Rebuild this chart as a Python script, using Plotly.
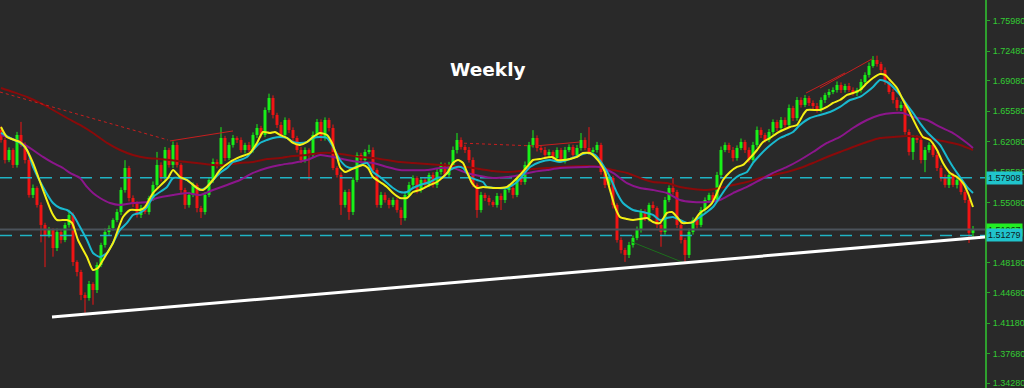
import plotly.graph_objects as go

# ---------------- data ----------------
first_open = 1.6341
close = [
    1.6226,1.5996,1.6111,1.5939,1.6284,1.6169,1.5996,1.5594,1.5674,1.5479,
    1.5249,1.5134,1.5191,1.4984,1.5168,1.5076,1.5249,1.5364,1.4823,1.4708,
    1.4444,1.4409,1.4570,1.4501,1.4789,1.5019,1.5168,1.5214,1.5306,1.5398,
    1.5651,1.5904,1.5559,1.5501,1.5364,1.5444,1.5398,1.5559,1.5709,1.5939,
    1.5789,1.6111,1.5939,1.6169,1.5939,1.5651,1.5479,1.5594,1.5709,1.5444,
    1.5398,1.5594,1.5766,1.5973,1.5939,1.6249,1.6019,1.6169,1.6249,1.6226,
    1.6111,1.6169,1.6111,1.6284,1.6364,1.6284,1.6571,1.6709,1.6514,1.6399,
    1.6284,1.6456,1.6341,1.6249,1.6111,1.5996,1.6111,1.6054,1.6284,1.6433,
    1.6249,1.6456,1.6364,1.5904,1.5824,1.5479,1.5628,1.5398,1.5766,1.6054,
    1.5996,1.6088,1.6111,1.5881,1.5479,1.5594,1.5536,1.5479,1.5536,1.5421,
    1.5329,1.5594,1.5709,1.5789,1.5651,1.5766,1.5709,1.5824,1.5709,1.5858,
    1.5939,1.5824,1.5939,1.6111,1.6226,1.6146,1.6111,1.5996,1.5709,1.5421,
    1.5594,1.5559,1.5513,1.5479,1.5582,1.5536,1.5651,1.5674,1.5594,1.5789,
    1.5743,1.5939,1.6169,1.6249,1.6134,1.6111,1.6054,1.6088,1.6019,1.6111,
    1.5996,1.6111,1.6146,1.6054,1.6134,1.6226,1.6134,1.6088,1.6111,1.6169,
    1.5858,1.5709,1.5789,1.5479,1.5076,1.4961,1.4904,1.5019,1.5099,1.5191,
    1.5398,1.5329,1.5479,1.5444,1.5249,1.5168,1.5536,1.5674,1.5628,1.5249,
    1.5076,1.4904,1.5168,1.5306,1.5249,1.5421,1.5536,1.5594,1.5536,1.5824,
    1.6111,1.6169,1.6111,1.6019,1.6134,1.6203,1.6111,1.5996,1.6169,1.6341,
    1.6284,1.6226,1.6318,1.6433,1.6364,1.6456,1.6399,1.6594,1.6479,1.6686,
    1.6629,1.6709,1.6652,1.6617,1.6571,1.6686,1.6744,1.6778,1.6801,1.6859,
    1.6801,1.6847,1.6801,1.6766,1.6801,1.6893,1.6974,1.7077,1.7146,1.7100,
    1.7031,1.6893,1.6778,1.6686,1.6594,1.6629,1.6318,1.6088,1.6249,1.6226,
    1.5996,1.6111,1.6169,1.6054,1.5904,1.5789,1.5709,1.5824,1.5709,1.5766,
    1.5628,1.5536,1.5157,1.5197,
]
# upper / lower shadow lengths in pips
wick_up = [
    40,25,30,20,35,150,30,25,40,20, 30,25,35,20,40,30,25,60,30,20,
    25,30,35,20,30,25,40,30,20,35, 30,90,25,30,20,35,30,25,40,150,
    30,35,25,40,30,20,25,35,30,20, 25,30,35,40,30,125,25,30,35,20,
    30,25,35,30,45,25,30,50,30,25, 35,30,20,30,25,35,30,20,40,35,
    30,30,25,40,20,30,25,35,30,30, 25,30,60,30,20,35,30,25,30,20,
    30,25,35,30,20,35,30,25,30,35, 30,25,35,40,80,30,25,35,30,20,
    35,25,30,20,35,30,25,30,20,35, 30,40,35,90,30,25,35,30,20,30,
    25,35,30,25,35,80,30,240,30,35, 25,30,35,25,20,30,25,35,30,40,
    35,30,25,40,20,30,35,30,115,25, 30,25,40,30,25,35,30,25,30,35,
    40,30,25,35,30,40,25,30,35,40, 30,25,35,30,25,35,30,40,25,35,
    30,35,25,30,35,30,25,35,30,40, 30,25,35,30,25,35,30,40,45,50,
    25,30,20,35,30,40,25,30,35,30, 40,35,30,25,35,30,40,30,25,35,
    30,25,30,40,
]
wick_dn = [
    30,40,25,35,30,25,40,30,35,30, 200,370,30,100,35,40,25,30,45,50,
    60,170,30,170,35,25,30,40,30,25, 35,30,40,45,30,35,25,30,35,30,
    40,25,30,35,30,40,45,30,25,50, 70,30,25,35,40,30,35,25,30,35,
    30,40,25,30,35,30,25,30,40,35, 30,25,35,40,30,35,30,290,30,25,
    35,30,40,25,30,115,30,90,35,25, 30,40,25,35,30,35,30,40,25,30,
    80,30,25,35,40,30,35,25,30,35, 30,35,25,30,40,30,35,30,25,90,
    30,35,40,25,30,115,35,30,40,25, 35,30,25,30,40,30,35,25,30,35,
    30,40,25,30,35,30,25,30,35,30, 30,35,25,40,30,40,80,35,30,25,
    30,35,40,25,35,170,30,25,30,35, 40,80,35,30,40,25,30,35,30,25,
    30,25,35,40,30,25,35,30,25,30, 35,30,25,30,35,40,30,25,35,30,
    30,25,35,40,30,25,35,30,25,30, 35,30,25,30,35,30,25,30,20,30,
    35,30,25,40,30,35,30,40,90,35, 40,140,30,25,35,40,30,35,25,40,
    30,35,115,45,
]

# moving averages: (bar position, value)
ma_fast_x = [0,1.5,4.75,6,8,10.5,12.75,14,16.5,17.75,19.25,21.5,23,24.25,25.5,28,30.5,32.25,34.75,36,38,40.5,41.75,43,44.75,46.5,49,50.5,53,54.75,57.25,59.75,62.25,64,65.5,67.25,68.5,69.75,71.5,73,74.75,76.5,78,79.75,81.5,82.75,84,84.75,86,87.25,89,90.5,91.75,93,94.75,96.5,98,99.75,101.5,103,104.75,107.25,109,110.5,111.75,113,114.25,115.5,116.5,117.75,119,120.5,123,124.75,126.5,128,129.75,131.5,133,134.75,137.75,139,140.5,142.25,144,145.5,147.25,148.5,149.75,151,152.25,153.5,154.75,156.5,158,159.75,161.5,163,164.75,166.5,167.75,169,170.25,171.5,173,174.75,176.5,177.75,179,180.5,182.25,184,185.5,187.25,189,190.5,192.25,194,195.5,197.25,199,200.5,201.5,204.75,206.5,208,209.75,211.5,213,214.75,216.5,218,219.75,221,222.25,224,225.5,227.25,229,230.5,232.25,234,235.5,237.25,239,240.5,241.75,243]
ma_fast_y = [1.6376,1.6261,1.6203,1.6146,1.5962,1.5651,1.5387,1.5306,1.5306,1.5272,1.5076,1.4880,1.4731,1.4754,1.4846,1.5042,1.5341,1.5421,1.5421,1.5455,1.5616,1.5731,1.5789,1.5881,1.5800,1.5766,1.5674,1.5651,1.5766,1.5881,1.5973,1.6031,1.6077,1.6192,1.6318,1.6306,1.6318,1.6284,1.6249,1.6192,1.6169,1.6203,1.6261,1.6306,1.6284,1.6192,1.6031,1.5916,1.5858,1.5881,1.5916,1.5939,1.5904,1.5800,1.5743,1.5686,1.5616,1.5559,1.5559,1.5628,1.5651,1.5709,1.5743,1.5800,1.5858,1.5962,1.5996,1.5962,1.5858,1.5731,1.5674,1.5686,1.5674,1.5674,1.5686,1.5743,1.5824,1.5916,1.5996,1.6008,1.6031,1.5996,1.5996,1.6008,1.6031,1.6077,1.6077,1.6031,1.5962,1.5858,1.5651,1.5455,1.5341,1.5318,1.5306,1.5318,1.5329,1.5283,1.5272,1.5387,1.5398,1.5341,1.5272,1.5272,1.5283,1.5387,1.5444,1.5501,1.5616,1.5766,1.5858,1.5916,1.5939,1.6019,1.6111,1.6203,1.6249,1.6306,1.6341,1.6376,1.6399,1.6514,1.6571,1.6571,1.6606,1.6652,1.6686,1.6744,1.6766,1.6801,1.6881,1.6939,1.6985,1.6974,1.6916,1.6824,1.6686,1.6537,1.6376,1.6261,1.6226,1.6111,1.5962,1.5847,1.5800,1.5731,1.5616,1.5455]

ma_mid_x = [0,2.25,4.75,6.5,8,10.5,13,14.75,16.5,18,19.75,21.5,23,24.75,26.5,28,29.75,31.5,33,34.75,36.5,38,41.5,43,44.75,46.5,48,49.75,51.5,53,54.75,56.5,58,59.75,61.5,63,64.75,66.5,68,69.75,71.5,73,74.75,76.5,78,79.75,81.5,83,84.75,86.5,88,89.75,91.5,93,94.75,96.5,98,99.75,101.5,103,104.75,107.25,109,110.5,112.25,114,115.5,117.25,119,120.5,121.5,124,126.5,129,130.5,132.25,134.75,137.25,139.75,142.25,144.75,146.5,148.5,150.5,152.25,154,155.5,158,160.5,163,164.75,166.5,168,169.75,171.5,173,174.75,176.5,178,179.75,181.5,183,184.75,186.5,188,189.75,191.5,193,194.75,196.5,198,199.75,202.25,204.75,207.25,209.75,212.25,214.75,216.5,218,219.75,221.5,223,224.75,226.5,228,229.75,231.5,233,234.75,236.5,238,239.75,241.5,243]
ma_mid_y = [1.6307,1.6249,1.6192,1.6111,1.5916,1.5686,1.5501,1.5444,1.5421,1.5364,1.5226,1.5076,1.4927,1.4880,1.4927,1.5042,1.5191,1.5272,1.5364,1.5387,1.5455,1.5571,1.5686,1.5789,1.5789,1.5766,1.5709,1.5651,1.5686,1.5766,1.5847,1.5904,1.5973,1.5996,1.6031,1.6111,1.6192,1.6226,1.6249,1.6261,1.6249,1.6203,1.6192,1.6203,1.6249,1.6261,1.6249,1.6146,1.5996,1.5916,1.5904,1.5939,1.5962,1.5858,1.5800,1.5731,1.5674,1.5628,1.5628,1.5674,1.5709,1.5743,1.5789,1.5800,1.5881,1.5916,1.5904,1.5800,1.5766,1.5743,1.5686,1.5674,1.5674,1.5743,1.5824,1.5916,1.5973,1.5996,1.5973,1.6008,1.6054,1.6077,1.6054,1.5939,1.5800,1.5616,1.5501,1.5421,1.5398,1.5364,1.5306,1.5329,1.5341,1.5306,1.5272,1.5283,1.5341,1.5398,1.5455,1.5571,1.5686,1.5766,1.5824,1.5858,1.5962,1.6054,1.6134,1.6192,1.6249,1.6284,1.6318,1.6399,1.6479,1.6514,1.6548,1.6606,1.6686,1.6721,1.6778,1.6836,1.6916,1.6893,1.6836,1.6744,1.6629,1.6537,1.6421,1.6318,1.6249,1.6169,1.6031,1.5916,1.5800,1.5686,1.5616]

ma_slow_x = [0,2.25,4.75,8,10.5,13,15.5,17.25,19.75,21.5,23,24.75,27.25,29.75,33,36.5,39,43,46.5,49.75,53,56.5,59.75,63,66.5,69.75,73,76.5,79.75,83,86.5,89.75,93,96.5,99.75,106.5,109.75,113,116.5,119.75,123,126.5,129.75,133,136.5,139.75,146.5,149.75,153,156.5,159.75,163,166.5,169.75,173,176.5,179.75,183,186.5,189.75,193,196.5,199.75,203,206.5,209.75,213,216.5,219.75,223,225.5,228,231.5,234.75,238,241.5,243]
ma_slow_y = [1.6284,1.6249,1.6203,1.6111,1.6031,1.5962,1.5904,1.5847,1.5789,1.5686,1.5616,1.5559,1.5501,1.5479,1.5501,1.5513,1.5559,1.5594,1.5616,1.5594,1.5651,1.5709,1.5766,1.5847,1.5904,1.5939,1.5962,1.5996,1.6054,1.6031,1.5996,1.5973,1.5962,1.5916,1.5881,1.5881,1.5904,1.5904,1.5847,1.5812,1.5789,1.5800,1.5824,1.5858,1.5881,1.5904,1.5916,1.5916,1.5847,1.5731,1.5674,1.5651,1.5616,1.5536,1.5513,1.5513,1.5536,1.5616,1.5686,1.5766,1.5847,1.5916,1.5996,1.6088,1.6192,1.6261,1.6364,1.6456,1.6514,1.6537,1.6537,1.6491,1.6456,1.6376,1.6306,1.6192,1.6134]

ma_long_x = [0,3,6.5,9.75,13,16.5,19.75,23,26.5,29.75,33,36.5,39.75,46.5,53,56.5,59.75,63,66.5,69.75,73,76.5,79.75,83,86.5,89.75,93,96.5,99.75,103,106.5,109.75,113,116.5,119.75,123,126.5,129.75,133,136.5,139.75,146.5,149.75,153,156.5,159.75,163,166.5,169.75,173,176.5,179.75,183,186.5,189.75,193,196.5,199.75,203,206.5,209.75,213,216.5,219.75,223,226.5,229.75,233,236.5,239.75,243]
ma_long_y = [1.6824,1.6778,1.6721,1.6652,1.6571,1.6479,1.6399,1.6306,1.6192,1.6111,1.6054,1.6019,1.6008,1.5973,1.5939,1.5939,1.5962,1.5973,1.6008,1.6019,1.6042,1.6054,1.6077,1.6077,1.6054,1.6031,1.6019,1.5996,1.5973,1.5962,1.5950,1.5939,1.5927,1.5916,1.5892,1.5869,1.5858,1.5869,1.5892,1.5904,1.5916,1.5927,1.5916,1.5881,1.5847,1.5789,1.5743,1.5731,1.5686,1.5663,1.5651,1.5674,1.5709,1.5743,1.5789,1.5824,1.5858,1.5904,1.5962,1.6031,1.6088,1.6146,1.6203,1.6249,1.6261,1.6272,1.6261,1.6238,1.6203,1.6169,1.6111]

# drawn objects (bar position, price)
red_dash_1 = ([-0.25, 41.75], [1.6778, 1.6226])
red_solid_1 = ([42.25, 58], [1.6215, 1.6330])
red_dash_2 = ([114.25, 133.5], [1.6192, 1.6157])
red_solid_2 = ([133.5, 144.75], [1.6157, 1.6203])
red_solid_3 = ([201.25, 211], [1.6766, 1.6997])
red_solid_4 = ([204.75, 217.75], [1.6824, 1.7158])
green_line = ([157.75, 170.25], [1.5053, 1.4823])
support_line = ([12.75, 246], [1.4190, 1.5111])

level_upper = 1.57908
level_lower = 1.51279
bid_price = 1.51967

tick_vals = [1.75980, 1.72480, 1.69080, 1.65580, 1.62080, 1.58580, 1.55080,
             1.48180, 1.44680, 1.41180, 1.37680, 1.34280]
tick_text = ["%.5f" % v for v in tick_vals]

# ---------------- build figure ----------------
BULL = "#19f019"
BEAR = "#f01414"
n = min(len(close), len(wick_up), len(wick_dn))
opens = [first_open] + close[:n - 1]
xs = list(range(n))

fig = go.Figure()

wx = {BULL: [], BEAR: []}
wy = {BULL: [], BEAR: []}
base, height, cols = [], [], []
for i in range(n):
    o, c = opens[i], close[i]
    col = BULL if c >= o else BEAR
    hi = max(o, c) + wick_up[i] * 1e-4
    lo = min(o, c) - wick_dn[i] * 1e-4
    wx[col] += [i, i, None]
    wy[col] += [lo, hi, None]
    base.append(min(o, c))
    height.append(max(abs(c - o), 0.0005))
    cols.append(col)

for col in (BULL, BEAR):
    fig.add_trace(go.Scatter(x=wx[col], y=wy[col], mode="lines",
                             line=dict(color=col, width=1), hoverinfo="skip"))
fig.add_trace(go.Bar(x=xs, y=height, base=base, width=0.74,
                     marker=dict(color=cols, line=dict(width=0)), hoverinfo="skip"))

# horizontal levels
for lv in (level_upper, level_lower):
    fig.add_trace(go.Scatter(x=[-0.25, 246], y=[lv, lv], mode="lines",
                             line=dict(color="#1fb3c4", width=1.5, dash="12px,8px"),
                             hoverinfo="skip"))
fig.add_trace(go.Scatter(x=[-0.25, 246], y=[bid_price, bid_price], mode="lines",
                         line=dict(color="#4b525a", width=2), hoverinfo="skip"))

# moving averages
fig.add_trace(go.Scatter(x=ma_long_x, y=ma_long_y, mode="lines",
                         line=dict(color="#8a0a0a", width=2, shape="spline", smoothing=0.6)))
fig.add_trace(go.Scatter(x=ma_slow_x, y=ma_slow_y, mode="lines",
                         line=dict(color="#8c168c", width=2, shape="spline", smoothing=0.6)))
fig.add_trace(go.Scatter(x=ma_mid_x, y=ma_mid_y, mode="lines",
                         line=dict(color="#19b9cf", width=2, shape="spline", smoothing=0.6)))
fig.add_trace(go.Scatter(x=ma_fast_x, y=ma_fast_y, mode="lines",
                         line=dict(color="#f5f014", width=2, shape="spline", smoothing=0.6)))

# trend objects
for (lx, ly), col, dash in [
    (red_dash_1, "#c81e1e", "3px,3px"),
    (red_solid_1, "#c81e1e", "solid"),
    (red_dash_2, "#c81e1e", "3px,3px"),
    (red_solid_2, "#c81e1e", "solid"),
    (red_solid_3, "#c81e1e", "solid"),
    (red_solid_4, "#c81e1e", "solid"),
    (green_line, "#1d6e1d", "solid"),
]:
    fig.add_trace(go.Scatter(x=lx, y=ly, mode="lines",
                             line=dict(color=col, width=1, dash=dash), hoverinfo="skip"))
fig.add_trace(go.Scatter(x=support_line[0], y=support_line[1], mode="lines",
                         line=dict(color="#ffffff", width=3), hoverinfo="skip"))

tick_font = dict(family="Liberation Sans, Arial, sans-serif", size=9, color="#33cc33")
label_font_family = "Liberation Sans, Arial, sans-serif"

annotations = [
    dict(text="<b>Weekly</b>", x=0.4954, y=0.853, xref="paper", yref="paper",
         showarrow=False, font=dict(family="DejaVu Sans, Verdana, sans-serif", size=18.5, color="#ffffff")),
    dict(text="%.5f" % level_upper, x=1, y=level_upper, xref="paper", yref="y",
         xanchor="left", yanchor="middle", xshift=1, showarrow=False, bgcolor="#20c4cc",
         borderpad=1, font=dict(family=label_font_family, size=9, color="#102020")),
    dict(text="%.5f" % bid_price, x=1, y=bid_price, xref="paper", yref="y",
         xanchor="left", yanchor="middle", xshift=1, showarrow=False, bgcolor="#22ee22",
         borderpad=1, font=dict(family=label_font_family, size=9, color="#103010")),
    dict(text="%.5f" % level_lower, x=1, y=level_lower, xref="paper", yref="y",
         xanchor="left", yanchor="middle", xshift=1, showarrow=False, bgcolor="#20c4cc",
         borderpad=1, font=dict(family=label_font_family, size=9, color="#102020")),
]

fig.update_layout(
    width=1024, height=388,
    margin=dict(l=0, r=39, t=0, b=0, autoexpand=False),
    paper_bgcolor="#292929", plot_bgcolor="#292929",
    showlegend=False,
    xaxis=dict(range=[-0.25, 246], visible=False, fixedrange=True, automargin=False),
    yaxis=dict(range=[1.3374, 1.7836], side="right", showgrid=False, zeroline=False,
               automargin=False, ticklabeloverflow="allow", ticklabelstandoff=1,
               showline=True, linecolor="#2ea02e", linewidth=2,
               ticks="outside", ticklen=3, tickcolor="#2ea02e", tickwidth=1,
               tickvals=tick_vals, ticktext=tick_text, tickfont=tick_font, fixedrange=True),
    annotations=annotations,
    hovermode=False,
)

fig.write_html("out.html", config={"displayModeBar": False})
